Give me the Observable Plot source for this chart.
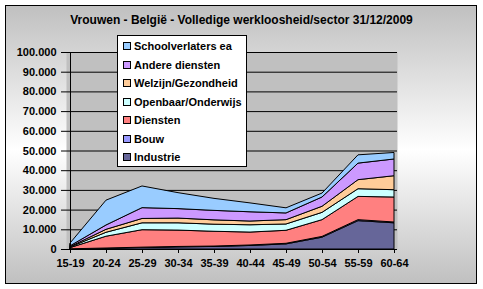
<!DOCTYPE html>
<html><head><meta charset="utf-8">
<script src="https://cdn.jsdelivr.net/npm/d3@7"></script>
<script src="https://cdn.jsdelivr.net/npm/@observablehq/plot@0.6"></script>
<style>
html,body{margin:0;padding:0;background:#fff;}
#wrap{position:relative;width:483px;height:289px;font-family:"Liberation Sans",Arial,sans-serif;}
#box{position:absolute;left:5px;top:5px;width:470px;height:277px;border:1px solid #000;
 background:linear-gradient(#c0c0c0 0%,#ffffff 52%,#c0c0c0 100%);}
#chart{position:absolute;left:0;top:0;}
#title{position:absolute;left:0;top:13px;width:483px;text-align:center;font-weight:bold;font-size:12px;}
#legend{position:absolute;left:117px;top:35px;width:128px;height:130px;background:#fff;border:1px solid #000;
 font-weight:bold;font-size:11px;}
.li{position:absolute;left:5px;height:14px;line-height:14px;white-space:nowrap;}
.sw{display:inline-block;width:6px;height:6px;border:1px solid #000;margin-right:3px;vertical-align:0px;}
</style></head>
<body>
<div id="wrap">
  <div id="box"></div>
  <div id="chart"></div>
  <div id="title">Vrouwen - België - Volledige werkloosheid/sector 31/12/2009</div>
  <div id="legend"></div>
</div>
<script>
const categories = ["15-19","20-24","25-29","30-34","35-39","40-44","45-49","50-54","55-59","60-64"];
const series = ["Industrie","Bouw","Diensten","Openbaar/Onderwijs","Welzijn/Gezondheid","Andere diensten","Schoolverlaters ea"];
const colors = ["#666699","#9999ff","#ff8080","#ccffff","#ffcc99","#cc99ff","#99ccff"];
const industrie       = [100, 400, 800, 1100, 1300, 1800, 2600, 6000, 14400, 13300];
const bouw            = [10, 100, 150, 200, 200, 250, 300, 400, 500, 400];
const diensten        = [590, 6000, 8850, 8300, 7500, 6550, 6600, 8500, 11800, 12700];
const openbaar        = [300, 2000, 3500, 3700, 3600, 3700, 3200, 3700, 3900, 3700];
const welzijn         = [200, 1500, 2200, 2400, 2200, 1900, 2200, 3100, 4600, 7100];
const andere          = [400, 2200, 5500, 4800, 4800, 4700, 3400, 4700, 8400, 8500];
const schoolverlaters = [1400, 12600, 11000, 8100, 6100, 4500, 2600, 2000, 4200, 3300];
const yTicks = [0,10000,20000,30000,40000,50000,60000,70000,80000,90000,100000];

const values = [industrie, bouw, diensten, openbaar, welzijn, andere, schoolverlaters];
const data = [];
series.forEach((s, i) => categories.forEach((c, j) => data.push({cat: c, series: s, value: values[i][j]})));

const fmt = d3.formatLocale({decimal: ",", thousands: ".", grouping: [3], currency: ["€",""]}).format(",");

const chart = Plot.plot({
  width: 483, height: 289,
  marginLeft: 66, marginRight: 86, marginTop: 52, marginBottom: 40,
  x: {type: "point", domain: categories, padding: 0, label: null},
  y: {domain: [0, 100000], label: null},
  color: {domain: series, range: colors},
  style: {background: "transparent", fontFamily: "Liberation Sans, Arial, sans-serif", fontSize: "11px", fontWeight: "bold", color: "#000", overflow: "visible"},
  marks: [
    Plot.frame({fill: "#c0c0c0"}),
    Plot.gridY(yTicks, {stroke: "#000", strokeOpacity: 1}),
    Plot.areaY(data, {x: "cat", y: "value", fill: "series", order: series, stroke: "#000", strokeWidth: 1}),
    Plot.ruleY([0], {stroke: "#000"}),
    Plot.ruleX([categories[0]], {stroke: "#000"}),
    Plot.axisY(yTicks, {tickFormat: fmt, tickSize: 5, tickPadding: 5, stroke: "#000", fontSize: 11}),
    Plot.axisX(categories, {tickSize: 4, tickPadding: 6, stroke: "#000", fontSize: 11})
  ]
});
document.getElementById("chart").appendChild(chart);

const leg = document.getElementById("legend");
series.slice().reverse().forEach((s, k) => {
  const i = series.indexOf(s);
  const d = document.createElement("div");
  d.className = "li";
  d.style.top = (3 + k * 18.5) + "px";
  d.innerHTML = `<span class="sw" style="background:${colors[i]}"></span>${s}`;
  leg.appendChild(d);
});
</script>
</body></html>
